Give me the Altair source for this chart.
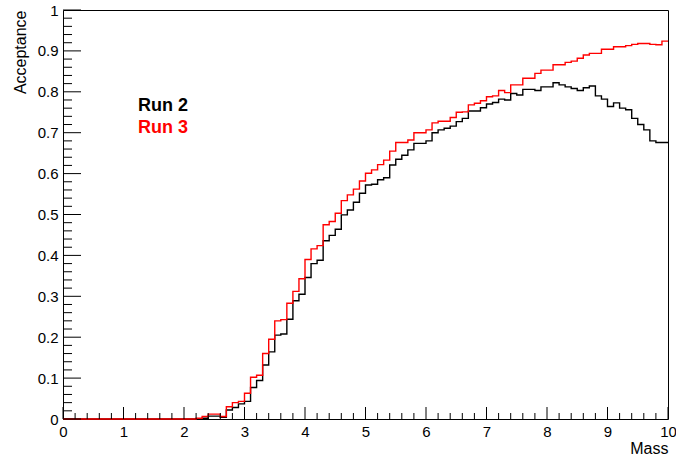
import altair as alt
import pandas as pd

# ---------------- data ----------------
bin_width = 0.1
x_min, x_max = 0.0, 10.0

run2 = [
    0.0, 0.0, 0.0, 0.0, 0.0, 0.0, 0.0, 0.0, 0.0, 0.0,
    0.0, 0.0, 0.0, 0.0, 0.0, 0.0, 0.0, 0.0, 0.0, 0.0,
    0.0, 0.0, 0.0, 0.002, 0.007, 0.007, 0.004, 0.022, 0.028, 0.037,
    0.043, 0.077, 0.094, 0.132, 0.164, 0.205, 0.208, 0.244, 0.289, 0.305,
    0.346, 0.380, 0.388, 0.436, 0.449, 0.464, 0.499, 0.511, 0.530, 0.552,
    0.572, 0.574, 0.585, 0.590, 0.621, 0.635, 0.645, 0.658, 0.674, 0.674,
    0.680, 0.700, 0.707, 0.711, 0.716, 0.727, 0.735, 0.753, 0.753, 0.761,
    0.770, 0.774, 0.782, 0.780, 0.796, 0.792, 0.806, 0.806, 0.803, 0.812,
    0.812, 0.822, 0.817, 0.812, 0.808, 0.803, 0.810, 0.814, 0.790, 0.782,
    0.764, 0.773, 0.760, 0.756, 0.735, 0.720, 0.707, 0.680, 0.676, 0.676,
]

run3 = [
    0.0, 0.0, 0.0, 0.0, 0.0, 0.0, 0.0, 0.0, 0.0, 0.0,
    0.0, 0.0, 0.0, 0.0, 0.0, 0.0, 0.0, 0.0, 0.0, 0.0,
    0.0, 0.0, 0.002, 0.006, 0.012, 0.012, 0.006, 0.030, 0.040, 0.043,
    0.063, 0.102, 0.107, 0.160, 0.195, 0.240, 0.243, 0.283, 0.312, 0.343,
    0.390, 0.416, 0.424, 0.475, 0.483, 0.503, 0.534, 0.548, 0.562, 0.582,
    0.601, 0.609, 0.622, 0.633, 0.655, 0.676, 0.676, 0.682, 0.700, 0.700,
    0.707, 0.724, 0.728, 0.728, 0.737, 0.750, 0.751, 0.768, 0.772, 0.778,
    0.788, 0.790, 0.803, 0.798, 0.817, 0.817, 0.833, 0.833, 0.845, 0.853,
    0.853, 0.866, 0.866, 0.872, 0.875, 0.882, 0.890, 0.894, 0.894, 0.904,
    0.904, 0.910, 0.910, 0.913, 0.916, 0.918, 0.918, 0.916, 0.915, 0.924,
]

series_names = ["Run 2", "Run 3"]
series_colors = ["#000000", "#ff0000"]

x_major = [0, 1, 2, 3, 4, 5, 6, 7, 8, 9, 10]
x_minor = [round(0.2 * i, 1) for i in range(51) if i % 5 != 0]
y_major = [0, 0.1, 0.2, 0.3, 0.4, 0.5, 0.6, 0.7, 0.8, 0.9, 1]
y_minor = [round(0.02 * i, 2) for i in range(51) if i % 5 != 0]

x_title = "Mass"
y_title = "Acceptance"

# ---------------- build tables ----------------
rows = []
for name, vals in zip(series_names, [run2, run3]):
    for i, v in enumerate(vals):
        rows.append({"x": round(x_min + i * bin_width, 1), "y": v, "run": name})
    rows.append({"x": x_max, "y": vals[-1], "run": name})
hist = pd.DataFrame(rows)

W, H = 605, 409
FONT = "Liberation Sans"

xs = alt.Scale(domain=[x_min, x_max], nice=False, zero=False)
ys = alt.Scale(domain=[0, 1], nice=False)

x_axis = alt.Axis(
    values=x_major, format="d", ticks=False, domain=False, grid=False,
    labelFontSize=15, labelFont=FONT, labelColor="black", labelPadding=5,
    labelFlush=False, labelOverlap=False, labelBound=False,
    title=x_title, titleFont=FONT, titleFontSize=16, titleFontWeight="normal",
    titleColor="black", titleX=W, titleY=34, titleAlign="right",
    titleBaseline="alphabetic",
)
y_axis = alt.Axis(
    values=y_major, format="~g", ticks=False, domain=False, grid=False,
    labelFontSize=15, labelFont=FONT, labelColor="black", labelPadding=5,
    labelFlush=False, labelOverlap=False, labelBound=False,
    title=y_title, titleFont=FONT, titleFontSize=16, titleFontWeight="normal",
    titleColor="black", titleAngle=270, titleX=-38, titleY=0,
    titleAlign="right", titleBaseline="alphabetic",
)

lines = alt.Chart(hist).mark_line(interpolate="step-after", strokeWidth=1.4).encode(
    x=alt.X("x:Q", scale=xs, axis=x_axis),
    y=alt.Y("y:Q", scale=ys, axis=y_axis),
    color=alt.Color("run:N", scale=alt.Scale(domain=series_names, range=series_colors), legend=None),
    order=alt.Order("x:Q"),
    detail="run:N",
)

# ROOT-style inward ticks
xmaj = alt.Chart(pd.DataFrame({"t": x_major})).mark_rule(color="black", strokeWidth=1).encode(
    x=alt.X("t:Q", scale=xs, axis=x_axis), y=alt.value(H), y2=alt.value(H - 12))
xmin_ = alt.Chart(pd.DataFrame({"t": x_minor})).mark_rule(color="black", strokeWidth=1).encode(
    x=alt.X("t:Q", scale=xs, axis=x_axis), y=alt.value(H), y2=alt.value(H - 6))
ymaj = alt.Chart(pd.DataFrame({"t": y_major})).mark_rule(color="black", strokeWidth=1).encode(
    y=alt.Y("t:Q", scale=ys, axis=y_axis), x=alt.value(0), x2=alt.value(18))
ymin_ = alt.Chart(pd.DataFrame({"t": y_minor})).mark_rule(color="black", strokeWidth=1).encode(
    y=alt.Y("t:Q", scale=ys, axis=y_axis), x=alt.value(0), x2=alt.value(9))

legend_layers = []
for k, (name, col) in enumerate(zip(series_names, series_colors)):
    legend_layers.append(
        alt.Chart(pd.DataFrame({"label": [name]})).mark_text(
            align="left", baseline="alphabetic", font=FONT, fontSize=18,
            fontWeight="bold", color=col,
        ).encode(text="label:N", x=alt.value(75), y=alt.value(101 + 22 * k))
    )

chart = alt.layer(lines, xmaj, xmin_, ymaj, ymin_, *legend_layers).properties(
    width=W, height=H,
    autosize=alt.AutoSizeParams(type="none"),
    padding={"left": 63, "top": 10, "right": 8, "bottom": 41},
    background="white",
).configure(
    font=FONT,
    view=alt.ViewConfig(stroke="black", strokeWidth=1),
)

chart.save("out.html", embed_options={"renderer": "svg", "actions": False})
